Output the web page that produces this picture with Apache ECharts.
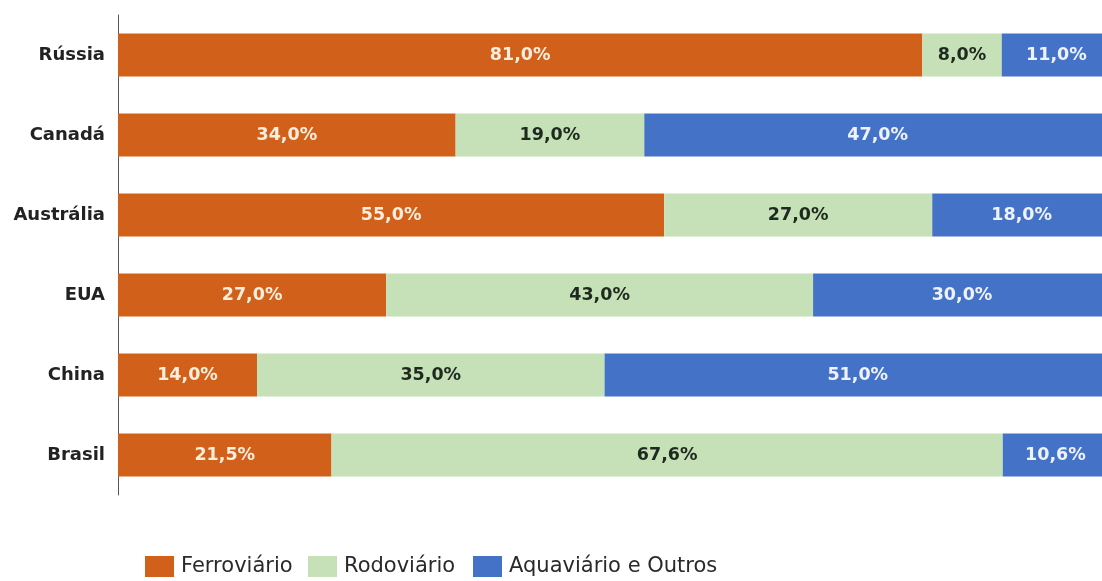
<!DOCTYPE html>
<html>
<head>
<meta charset="utf-8">
<script src="https://cdn.jsdelivr.net/npm/echarts@6/dist/echarts.min.js"></script>
<style>html,body{margin:0;padding:0;background:#fff;overflow:hidden;}#c{width:1111px;height:581px;}</style>
</head>
<body>
<div id="c"></div>
<script>
const categories = ['Rússia', 'Canadá', 'Austrália', 'EUA', 'China', 'Brasil'];
const ferroviario = [81.0, 34.0, 55.0, 27.0, 14.0, 21.5];
const rodoviario = [8.0, 19.0, 27.0, 43.0, 35.0, 67.6];
const aquaviario = [11.0, 47.0, 18.0, 30.0, 51.0, 10.6];
const seriesNames = ['Ferroviário', 'Rodoviário', 'Aquaviário e Outros'];

const fmt = p => p.value.toFixed(1).replace('.', ',') + '%';
const FONT = '"DejaVu Sans", sans-serif';
function mk(name, data, color, labelColor) {
  return {
    name: name, type: 'bar', stack: 'total', data: data, barWidth: 43,
    itemStyle: { color: color },
    label: { show: true, position: 'inside', formatter: fmt, color: labelColor,
      fontFamily: FONT, fontWeight: 'bold', fontSize: 17.5 }
  };
}
const legendLefts = [145, 308, 473];
const legends = seriesNames.map((n, i) => ({
  left: legendLefts[i], top: 556, padding: 0, itemWidth: 29, itemHeight: 21,
  icon: 'rect',
  textStyle: { color: '#2a2a2a', fontFamily: FONT, fontSize: 21, padding: [0, 0, 0, 2] },
  data: [n]
}));
const chart = echarts.init(document.getElementById('c'));
chart.setOption({
  animation: false,
  backgroundColor: '#fff',
  grid: { left: 118, top: 15, bottom: 86, right: 0 },
  xAxis: { type: 'value', min: 0, max: 100, show: false },
  yAxis: {
    type: 'category', data: categories, inverse: true,
    axisLine: { show: true, lineStyle: { color: '#555', width: 1 } },
    axisTick: { show: false },
    axisLabel: { color: '#222', fontFamily: FONT, fontWeight: 'bold', fontSize: 18, margin: 13 }
  },
  legend: legends,
  series: [
    mk(seriesNames[0], ferroviario, '#D0601A', '#fbeedd'),
    mk(seriesNames[1], rodoviario, '#C6E1B8', '#1f2a1f'),
    mk(seriesNames[2], aquaviario, '#4472C6', '#eef2fb')
  ]
});
</script>
</body>
</html>
